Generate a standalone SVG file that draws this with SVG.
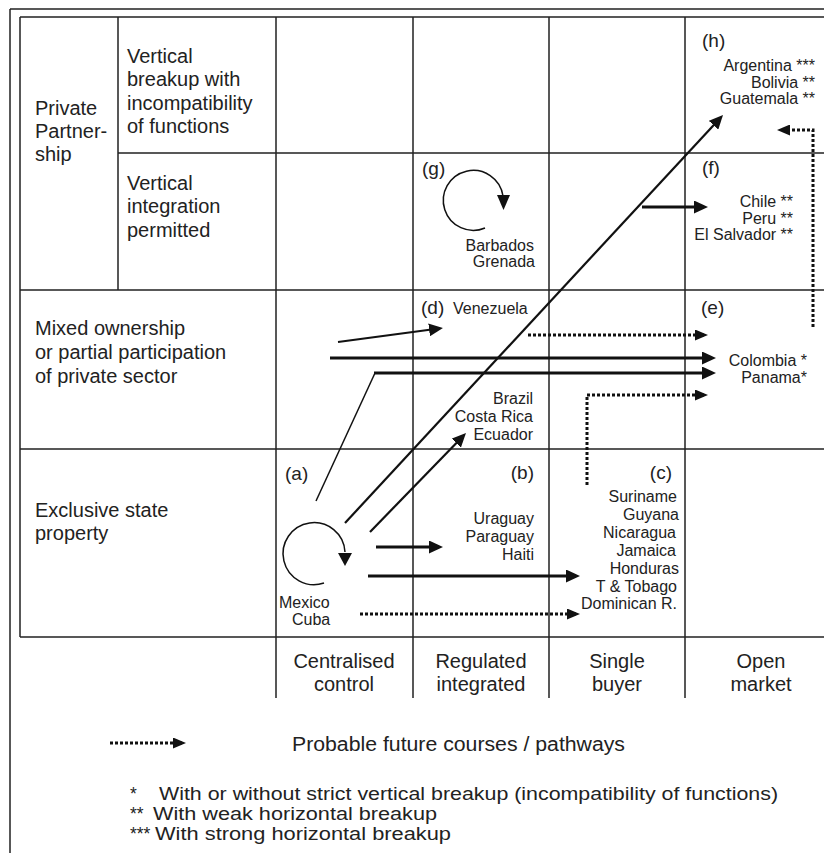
<svg xmlns="http://www.w3.org/2000/svg" width="824" height="853" viewBox="0 0 824 853">
<style>
.g{stroke:#222;stroke-width:1.5;fill:none}
.t{font-family:"Liberation Sans",Arial,sans-serif;font-size:20px;fill:#222}
.c{font-family:"Liberation Sans",Arial,sans-serif;font-size:16px;fill:#222}
.l{font-family:"Liberation Sans",Arial,sans-serif;font-size:19px;fill:#222}
.f{font-family:"Liberation Sans",Arial,sans-serif;font-size:17.5px;fill:#222}
.e{text-anchor:end}
.m{text-anchor:middle}
.s{stroke:#111;fill:none;stroke-width:3}
.s2{stroke:#111;fill:none;stroke-width:2.2}
.s1{stroke:#111;fill:none;stroke-width:1.5}
.d{stroke:#111;fill:none;stroke-width:3;stroke-dasharray:3 2}
.h{fill:#111}
</style>
<defs>
<marker id="ah" viewBox="0 0 14 13" refX="10" refY="6.5" markerWidth="14" markerHeight="13" markerUnits="userSpaceOnUse" orient="auto"><path d="M0,0L14,6.5L0,13z" fill="#111"/></marker>
<marker id="ad" viewBox="0 0 13 11" refX="9" refY="5.5" markerWidth="13" markerHeight="11" markerUnits="userSpaceOnUse" orient="auto"><path d="M0,0L13,5.5L0,11z" fill="#111"/></marker>
</defs>
<rect width="824" height="853" fill="#fff"/>
<g id="grid">
<path class="g" d="M10,9H824 M10,9V853 M20,17H824 M20,17V637 M20,637H824 M118,17V290 M118,153H824 M20,290H824 M20,449H824 M276,17V698 M413,17V698 M549,17V698 M685,17V698"/>
</g>
<g id="row-private">
<text class="t" x="35" y="115">Private</text>
<text class="t" x="35" y="138">Partner-</text>
<text class="t" x="35" y="161">ship</text>
</g>
<g id="row-vertical-breakup">
<text class="t" x="127" y="63">Vertical</text>
<text class="t" x="127" y="86">breakup with</text>
<text class="t" x="127" y="110">incompatibility</text>
<text class="t" x="127" y="133">of functions</text>
</g>
<g id="row-vertical-integration">
<text class="t" x="127" y="190">Vertical</text>
<text class="t" x="127" y="213">integration</text>
<text class="t" x="127" y="237">permitted</text>
</g>
<g id="row-mixed">
<text class="t" x="35" y="335">Mixed ownership</text>
<text class="t" x="35" y="359">or partial participation</text>
<text class="t" x="35" y="383">of private sector</text>
</g>
<g id="row-state">
<text class="t" x="35" y="517">Exclusive state</text>
<text class="t" x="35" y="540">property</text>
</g>
<g id="col-centralised"><text class="t m" x="344" y="668">Centralised</text><text class="t m" x="344" y="691">control</text></g>
<g id="col-regulated"><text class="t m" x="481" y="668">Regulated</text><text class="t m" x="481" y="691">integrated</text></g>
<g id="col-single"><text class="t m" x="617" y="668">Single</text><text class="t m" x="617" y="691">buyer</text></g>
<g id="col-open"><text class="t m" x="761" y="668">Open</text><text class="t m" x="761" y="691">market</text></g>
<g id="node-a">
<text class="l" x="285" y="480">(a)</text>
<text class="c" x="279" y="608">Mexico</text>
<text class="c" x="292" y="625">Cuba</text>
</g>
<g id="node-b">
<text class="l e" x="534" y="479">(b)</text>
<text class="c e" x="534" y="524">Uraguay</text>
<text class="c e" x="534" y="542">Paraguay</text>
<text class="c e" x="534" y="560">Haiti</text>
</g>
<g id="node-c">
<text class="l e" x="672" y="479">(c)</text>
<text class="c e" x="677" y="502">Suriname</text>
<text class="c e" x="679" y="520">Guyana</text>
<text class="c e" x="676" y="538">Nicaragua</text>
<text class="c e" x="676" y="556">Jamaica</text>
<text class="c e" x="679" y="574">Honduras</text>
<text class="c e" x="677" y="592">T &amp; Tobago</text>
<text class="c e" x="677" y="609">Dominican R.</text>
</g>
<g id="node-d">
<text class="l" x="421" y="314">(d)</text>
<text class="c" x="453" y="314">Venezuela</text>
<text class="c e" x="533" y="404">Brazil</text>
<text class="c e" x="533" y="422">Costa Rica</text>
<text class="c e" x="533" y="440">Ecuador</text>
</g>
<g id="node-e">
<text class="l" x="701" y="314">(e)</text>
<text class="c e" x="807" y="366">Colombia *</text>
<text class="c e" x="807" y="383">Panama*</text>
</g>
<g id="node-f">
<text class="l" x="702" y="174">(f)</text>
<text class="c e" x="793" y="207">Chile **</text>
<text class="c e" x="793" y="224">Peru **</text>
<text class="c e" x="793" y="240">El Salvador **</text>
</g>
<g id="node-g">
<text class="l" x="422" y="175">(g)</text>
<text class="c e" x="534" y="251">Barbados</text>
<text class="c e" x="535" y="267">Grenada</text>
</g>
<g id="node-h">
<text class="l" x="702" y="47">(h)</text>
<text class="c e" x="815" y="71">Argentina ***</text>
<text class="c e" x="815" y="88">Bolivia **</text>
<text class="c e" x="815" y="104">Guatemala **</text>
</g>
<g id="connectors">
<path class="s1" d="M485,228A30,30 0 1 1 503,196"/>
<path class="h" d="M497,195L510,195L503.5,210z"/>
<path class="s1" d="M324,583A31,31 0 1 1 345,552"/>
<path class="h" d="M338,553L352,553L345,566z"/>
<path class="s2" d="M345,523L720.3,117.9" marker-end="url(#ah)"/>
<path class="s" d="M642,207H704" marker-end="url(#ah)"/>
<path class="s2" d="M338,342L439,328.5" marker-end="url(#ah)"/>
<path class="s" d="M330,358H712" marker-end="url(#ah)"/>
<path class="s1" d="M316,501L375,373"/>
<path class="s" d="M374,373H712" marker-end="url(#ah)"/>
<path class="s2" d="M370,532L463.2,435.9" marker-end="url(#ah)"/>
<path class="s" d="M376,547H439" marker-end="url(#ah)"/>
<path class="s" d="M368,576H576" marker-end="url(#ah)"/>
<path class="d" d="M360,614H576" marker-end="url(#ad)"/>
<path class="d" d="M528,335H704" marker-end="url(#ad)"/>
<path class="d" d="M587,485V395H704" marker-end="url(#ad)"/>
<path class="d" d="M813,327V130H781" marker-end="url(#ad)"/>
</g>
<g id="legend">
<path class="d" d="M110,743H182" marker-end="url(#ad)"/>
<text class="t" x="292" y="751" textLength="333" lengthAdjust="spacingAndGlyphs">Probable future courses / pathways</text>
<text class="f" x="130" y="800">*</text>
<text class="f" x="159" y="800" textLength="619" lengthAdjust="spacingAndGlyphs">With or without strict vertical breakup (incompatibility of functions)</text>
<text class="f" x="130" y="820">**</text>
<text class="f" x="153" y="820" textLength="284" lengthAdjust="spacingAndGlyphs">With weak horizontal breakup</text>
<text class="f" x="130" y="840">***</text>
<text class="f" x="155" y="840" textLength="296" lengthAdjust="spacingAndGlyphs">With strong horizontal breakup</text>
</g>
</svg>
